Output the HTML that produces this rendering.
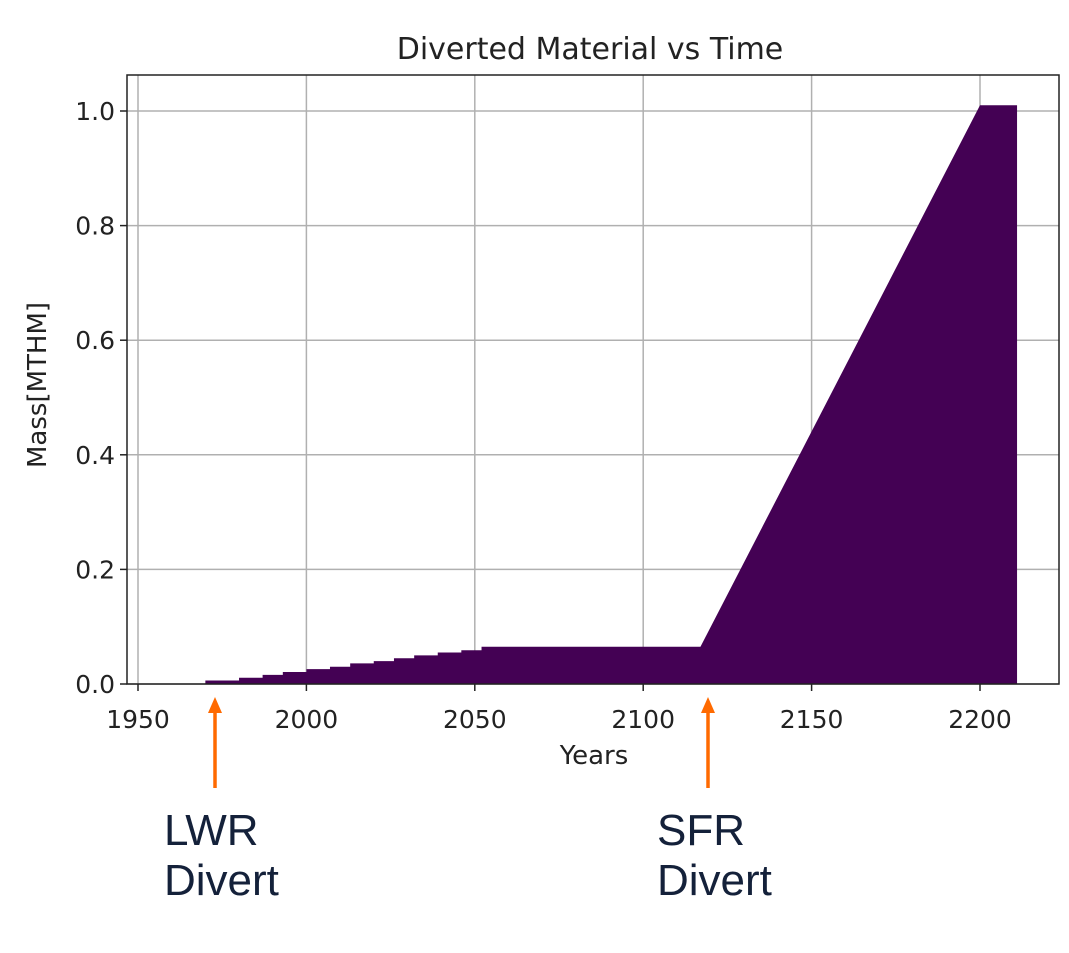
<!DOCTYPE html>
<html><head><meta charset="utf-8"><style>
html,body{margin:0;padding:0;background:#fff;}
body{width:1069px;height:953px;overflow:hidden;}
svg{display:block;font-family:"DejaVu Sans","Liberation Sans",sans-serif;}
</style></head><body>
<svg id="chart" width="1069" height="953">
<text x="590" y="59" font-size="30" text-anchor="middle" fill="#222">Diverted Material vs Time</text>
<g id="grid"></g>
<path id="area" fill="#440154"></path>
<rect x="127" y="75" width="932" height="609" fill="none" stroke="#222" stroke-width="1.5"/>
<g id="ticks"></g>
<text x="594" y="764" font-size="26" text-anchor="middle" fill="#222">Years</text>
<text transform="translate(46,385) rotate(-90)" font-size="26" text-anchor="middle" fill="#222">Mass[MTHM]</text>
<g>
<line x1="215" y1="788" x2="215" y2="712" stroke="#ff6a00" stroke-width="3.5"/>
<polygon points="208,713 222,713 215,697" fill="#ff6a00"/>
<text font-family="Liberation Sans,sans-serif" font-size="44" fill="#14213a"><tspan x="164" y="845">LWR</tspan><tspan x="164" y="895">Divert</tspan></text>
</g>
<g>
<line x1="708" y1="788" x2="708" y2="712" stroke="#ff6a00" stroke-width="3.5"/>
<polygon points="701,713 715,713 708,697" fill="#ff6a00"/>
<text font-family="Liberation Sans,sans-serif" font-size="44" fill="#14213a"><tspan x="657" y="845">SFR</tspan><tspan x="657" y="895">Divert</tspan></text>
</g>
</svg>
<script>
const years=[1970,1980,1980,1987,1987,1993,1993,2000,2000,2007,2007,2013,2013,2020,2020,2026,2026,2032,2032,2039,2039,2046,2046,2052,2052,2117,2200,2200,2211];
const mass=[0.006,0.006,0.011,0.011,0.016,0.016,0.021,0.021,0.026,0.026,0.030,0.030,0.036,0.036,0.040,0.040,0.045,0.045,0.050,0.050,0.055,0.055,0.059,0.059,0.065,0.065,1.01,1.01,1.01];
const xTicks=[1950,2000,2050,2100,2150,2200];
const yTicks=[0.0,0.2,0.4,0.6,0.8,1.0];
const X=v=>138+(v-1950)*(980-138)/250;
const Y=v=>684-v*573;
const NS='http://www.w3.org/2000/svg';
const grid=document.getElementById('grid'),ticks=document.getElementById('ticks');
function mk(tag,attrs,parent){const e=document.createElementNS(NS,tag);for(const k in attrs)e.setAttribute(k,attrs[k]);parent.appendChild(e);return e;}
xTicks.forEach(t=>{
 const g=mk('line',{x1:X(t),x2:X(t),y1:75,y2:684,stroke:'#b0b0b0','stroke-width':1.5},grid);
 
 
 mk('line',{x1:X(t),x2:X(t),y1:684,y2:691,stroke:'#222','stroke-width':1.5},ticks);
 const l=mk('text',{x:X(t),y:728,'font-size':25,'text-anchor':'middle',fill:'#222'},ticks);
 l.textContent=t;
 
 
});
yTicks.forEach(t=>{
 const g=mk('line',{x1:127,x2:1059,y1:Y(t),y2:Y(t),stroke:'#b0b0b0','stroke-width':1.5},grid);
 
 
 mk('line',{x1:120,x2:127,y1:Y(t),y2:Y(t),stroke:'#222','stroke-width':1.5},ticks);
 const l=mk('text',{x:115,y:Y(t)+9,'font-size':25,'text-anchor':'end',fill:'#222'},ticks);
 l.textContent=t.toFixed(1);
 
 
});
let d='M'+X(years[0])+','+Y(0);
years.forEach((yr,i)=>{d+=' L'+X(yr)+','+Y(mass[i]);});
d+=' L'+X(years[years.length-1])+','+Y(0)+' Z';
document.getElementById('area').setAttribute('d',d);
</script>
</body></html>
